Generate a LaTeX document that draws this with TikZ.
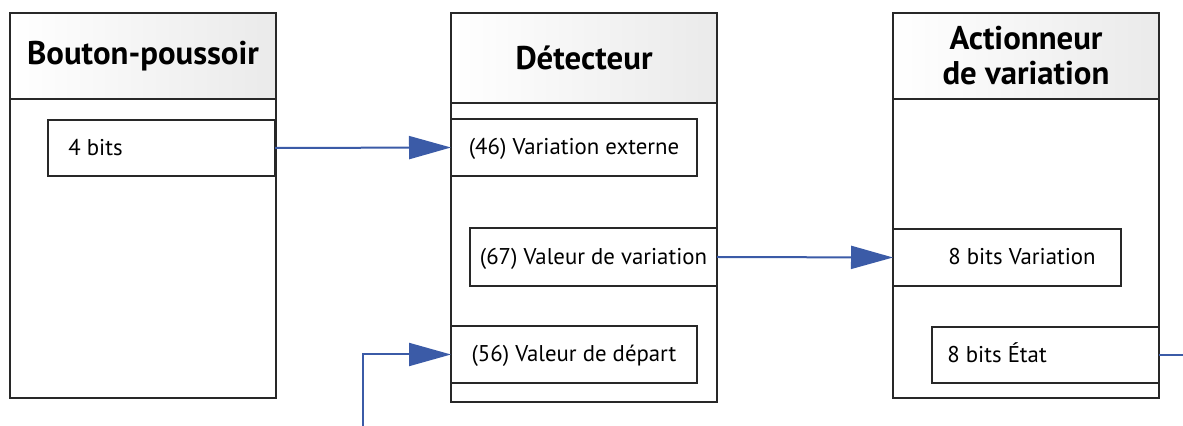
\documentclass[tikz,border=0pt]{standalone}
\usepackage{fontspec}
\setmainfont{PT Sans}
\usetikzlibrary{arrows.meta,positioning}
\definecolor{linkblue}{RGB}{59,91,167}
\definecolor{framegray}{RGB}{40,40,40}
\definecolor{headgray}{RGB}{234,234,234}

\begin{document}
\begin{tikzpicture}[x=0.5pt, y=-0.5pt,
  col/.style={draw=framegray, line width=0.65pt, rectangle, anchor=north west, minimum width=133pt, outer sep=0pt, inner sep=0pt},
  head/.style={col, left color=white, right color=headgray, font=\bfseries\fontsize{16.4}{17.5}\selectfont, align=center},
  port/.style={draw=framegray, line width=0.65pt, fill=white, rectangle, anchor=north west, minimum height=28.5pt, outer sep=0pt, inner sep=0pt, text height=1.45ex, text depth=0pt, font=\fontsize{11.4}{13.5}\selectfont},
  txt/.style={anchor=west, inner sep=0pt, text height=1.45ex, text depth=0pt, font=\fontsize{11.4}{13.5}\selectfont},
  arr/.style={-{Triangle[length=21pt, width=11.5pt]}, linkblue, line width=1pt}
]
\useasboundingbox (0,0) rectangle (1183,426);

% colonnes
\node[col, minimum height=192.5pt] (bp) at (10,13) {};
\node[head, minimum height=43pt] (bpH) at (10,13) {Bouton-poussoir};
\node[col, minimum height=194.5pt] (det) at (451,13) {};
\node[head, minimum height=45pt] (detH) at (451,13) {Détecteur};
\node[col, minimum height=192.5pt] (act) at (893,13) {};
\node[head, minimum height=43pt] (actH) at (893,13) {Actionneur\\de variation};

% objets
\node[port, minimum width=113.5pt, minimum height=28pt] (bits) at (48,120) {};
\node[txt] (bitsT) at ([xshift=10pt]bits.west) {4 bits};
\node[port, minimum width=123pt] (var46) at (451,119) {(46) Variation externe};
\node[port, minimum width=123.5pt, minimum height=29pt] (val67) at (470,228) {(67) Valeur de variation};
\node[port, minimum width=123pt] (val56) at (451,326) {(56) Valeur de départ};
\node[port, minimum width=114pt] (var8) at (893,229) {};
\node[txt] (var8T) at ([xshift=27.5pt]var8.west) {8 bits Variation};
\node[port, minimum width=113.5pt, minimum height=28pt] (etat) at (932,327) {};
\node[txt] (etatT) at ([xshift=7.5pt]etat.west) {8 bits État};

% liaisons
\coordinate (inDep) at (363,426);
\coordinate (outEtat) at (1183,355);
\draw[arr] (bits.east) -- (var46.west);
\draw[arr] (val67.east) -- (var8.west);
\draw[arr] (inDep) |- (val56.west);
\draw[linkblue, line width=1pt] (etat.east) -- (outEtat);
\end{tikzpicture}
\end{document}
